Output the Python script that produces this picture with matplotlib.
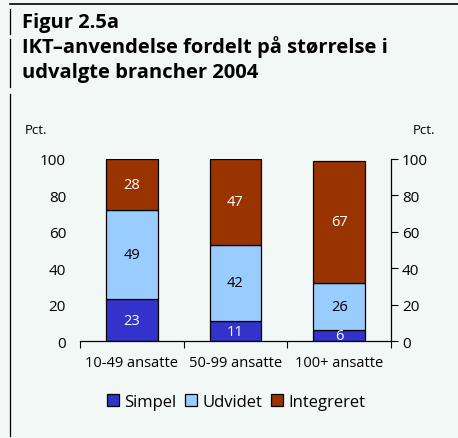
import matplotlib
matplotlib.use("Agg")
import matplotlib.pyplot as plt
from matplotlib.patches import Patch
import numpy as np

# data
categories = ["10-49 ansatte", "50-99 ansatte", "100+ ansatte"]
simpel = [23, 11, 6]
udvidet = [49, 42, 26]
integreret = [28, 47, 67]
series_names = ["Simpel", "Udvidet", "Integreret"]
colors = ["#3333CC", "#99CCFF", "#993300"]
text_colors = ["white", "black", "white"]
yticks = [0, 20, 40, 60, 80, 100]

bg = "#F1F8F6"
plt.rcParams["font.family"] = ["Open Sans", "DejaVu Sans"]

fig = plt.figure(figsize=(4.58, 4.39), dpi=100, facecolor=bg)

# frame lines round the figure box
fig.add_artist(plt.Line2D([10 / 458, 1], [1 - 5 / 439, 1 - 5 / 439], color="black", lw=1.2))
for y0, y1 in [(10, 35), (40, 88), (95, 437)]:
    fig.add_artist(plt.Line2D([10 / 458, 10 / 458], [1 - y0 / 439, 1 - y1 / 439], color="black", lw=0.9))

# title, one line at a time
title_lines = ["Figur 2.5a", "IKT\u2013anvendelse fordelt på størrelse i", "udvalgte brancher 2004"]
for line, base in zip(title_lines, [28, 53, 78]):
    fig.text(22 / 458, 1 - base / 439, line, fontsize=14.5, fontweight="bold", va="baseline")

ax = fig.add_axes([80 / 458, (439 - 342.3) / 439, 311 / 458, 182.3 / 439])
ax.set_facecolor(bg)
x = np.arange(len(categories))
bottom = np.zeros(len(categories))
for vals, col, tc in zip([simpel, udvidet, integreret], colors, text_colors):
    bars = ax.bar(x, vals, width=0.5, bottom=bottom, color=col, edgecolor="black", linewidth=0.9)
    for b, v, b0 in zip(bars, vals, bottom):
        ax.text(b.get_x() + b.get_width() / 2, b0 + v / 2, str(v), ha="center", va="center",
                color=tc, fontsize=10.5)
    bottom += np.array(vals)

ax.set_xlim(-0.5, 2.5)
ax.set_ylim(0, 100)
ax.set_yticks(yticks)
ax.tick_params(axis="y", length=0, labelsize=11, pad=10)
ax.set_xticks([-0.5, 0.5, 1.5, 2.5])
ax.set_xticklabels([])
ax.set_xticks(x, minor=True)
ax.set_xticklabels(categories, minor=True, fontsize=10.5)
ax.tick_params(axis="x", which="major", length=5, direction="out")
ax.tick_params(axis="x", which="minor", length=0, pad=10)
for s in ["left", "top", "right"]:
    ax.spines[s].set_visible(False)
ax.spines["bottom"].set_linewidth(0.9)

ax2 = ax.twinx()
ax2.set_ylim(0, 100)
ax2.set_yticks(yticks)
ax2.tick_params(axis="y", length=5, labelsize=11, pad=3)
for s in ["left", "top", "bottom"]:
    ax2.spines[s].set_visible(False)
ax2.spines["right"].set_linewidth(0.9)

fig.text(25 / 458, 1 - 131 / 439, "Pct.", fontsize=9.5, va="center")
fig.text(413 / 458, 1 - 131 / 439, "Pct.", fontsize=9.5, va="center")

handles = [Patch(facecolor=c, edgecolor="black", linewidth=0.9) for c in colors]
fig.legend(handles, series_names, loc="center", bbox_to_anchor=(236 / 458, 1 - 403 / 439),
           ncol=3, frameon=False, fontsize=12, handlelength=0.75, handleheight=0.75,
           handletextpad=0.3, columnspacing=0.5)

fig.savefig("out.png", dpi=100, facecolor=bg)
